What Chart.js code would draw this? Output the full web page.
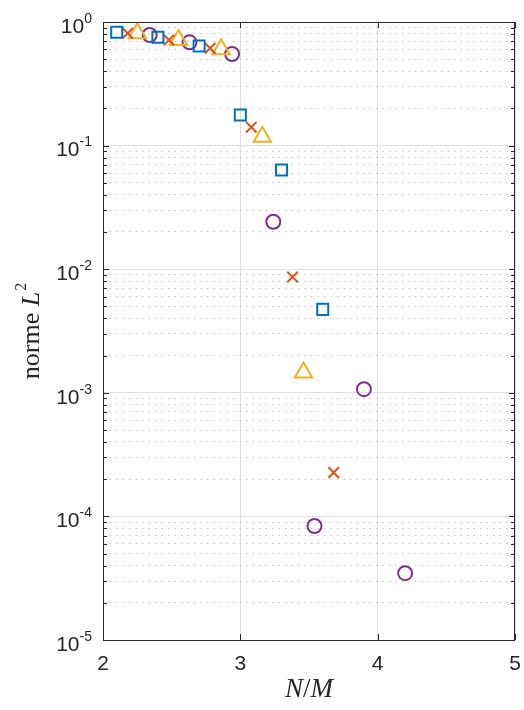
<!DOCTYPE html>
<html>
<head>
<meta charset="utf-8">
<script src="https://cdn.jsdelivr.net/npm/chart.js@4.4.1/dist/chart.umd.min.js"></script>
<style>
  html, body { margin: 0; padding: 0; background: #fff; }
  #wrap { width: 524px; height: 710px; }
</style>
</head>
<body>
<div id="wrap"><canvas id="chart" width="524" height="710"></canvas></div>
<script>
// values (x = N/M, y = norme L2)
const squaresX   = [2.10, 2.40, 2.70, 3.00, 3.30, 3.60];
const squaresY   = [0.826, 0.752, 0.640, 0.177, 0.0635, 0.00473];
const crossesX   = [2.18, 2.48, 2.78, 3.08, 3.38, 3.68];
const crossesY   = [0.810, 0.715, 0.613, 0.141, 0.00865, 0.000226];
const trianglesX = [2.25, 2.55, 2.86, 3.16, 3.46];
const trianglesY = [0.810, 0.715, 0.601, 0.118, 0.00146];
const circlesX   = [2.34, 2.63, 2.94, 3.24, 3.54, 3.90, 4.20];
const circlesY   = [0.785, 0.685, 0.551, 0.0242, 0.0000836, 0.00107, 0.0000347];

const xTicks = [2, 3, 4, 5];
const yDecades = [-5, -4, -3, -2, -1, 0];
const yMantissas = [1, 2, 3, 4, 5, 6, 7, 8, 9];

const AXIS = '#262626';
const MAJOR_GRID = '#e0e0e0';
const MINOR_GRID = '#c4c4c4';

function pts(xs, ys) {
    return xs.map((x, i) => ({ x: x, y: ys[i] }));
}

// all y ticks: 1..9 x 10^e, plus the top 10^0
const yTickValues = [];
yDecades.forEach(e => {
    if (e === 0) { yTickValues.push(1); return; }
    yMantissas.forEach(m => yTickValues.push(Number((m * Math.pow(10, e)).toPrecision(3))));
});

function isDecade(v) {
    const l = Math.log10(v);
    return Math.abs(l - Math.round(l)) < 1e-9;
}

const sansFont = '"Liberation Sans", Arial, sans-serif';
const serifFont = '"Liberation Serif", "Times New Roman", serif';

// text, box and inward ticks drawn on top of the chart
const decorations = {
    id: 'decorations',
    afterDraw(chart) {
        const ctx = chart.ctx;
        const area = chart.chartArea;
        const xs = chart.scales.x;
        const ys = chart.scales.y;
        ctx.save();

        // box
        ctx.strokeStyle = AXIS;
        ctx.lineWidth = 1;
        ctx.strokeRect(area.left + 0.5, area.top + 0.5, area.right - area.left - 1, area.bottom - area.top);

        // ticks inside the box
        ctx.beginPath();
        yTickValues.forEach(v => {
            const py = Math.round(ys.getPixelForValue(v)) + 0.5;
            const len = isDecade(v) ? 6 : 4;
            ctx.moveTo(area.left, py); ctx.lineTo(area.left + len, py);
            ctx.moveTo(area.right, py); ctx.lineTo(area.right - len, py);
        });
        xTicks.forEach(v => {
            const px = Math.round(xs.getPixelForValue(v)) + 0.5;
            ctx.moveTo(px, area.bottom); ctx.lineTo(px, area.bottom - 6);
            ctx.moveTo(px, area.top); ctx.lineTo(px, area.top + 6);
        });
        ctx.stroke();

        ctx.fillStyle = AXIS;

        // x tick labels
        ctx.textBaseline = 'middle';
        ctx.textAlign = 'center';
        ctx.font = '21px ' + sansFont;
        xTicks.forEach(v => {
            ctx.fillText(String(v), xs.getPixelForValue(v), area.bottom + 24);
        });

        // y tick labels 10^e
        ctx.textAlign = 'left';
        yDecades.forEach(e => {
            const py = ys.getPixelForValue(Math.pow(10, e));
            ctx.font = '21px ' + sansFont;
            const wBase = ctx.measureText('10').width;
            ctx.font = '14px ' + sansFont;
            const expText = String(e);
            const wExp = ctx.measureText(expText).width;
            const x0 = 92 - wBase - wExp;
            ctx.font = '21px ' + sansFont;
            ctx.fillText('10', x0, py + 5);
            ctx.font = '14px ' + sansFont;
            ctx.fillText(expText, x0 + wBase, py - 3);
        });

        // y title: norme L^2
        ctx.save();
        ctx.translate(32, 331);
        ctx.rotate(-Math.PI / 2);
        ctx.font = '26px ' + serifFont;
        const wN = ctx.measureText('norme ').width;
        ctx.font = 'italic 26px ' + serifFont;
        const wL = ctx.measureText('L').width;
        ctx.font = '16px ' + serifFont;
        const w2 = ctx.measureText('2').width;
        let tx = -(wN + wL + w2 + 1) / 2;
        ctx.font = '26px ' + serifFont;
        ctx.fillText('norme ', tx, 0);
        tx += wN;
        ctx.font = 'italic 26px ' + serifFont;
        ctx.fillText('L', tx, 0);
        tx += wL + 1;
        ctx.font = '16px ' + serifFont;
        ctx.fillText('2', tx, -10);
        ctx.restore();

        // x title: N/M
        ctx.font = 'italic 27px ' + serifFont;
        const wNn = ctx.measureText('N').width;
        const wM = ctx.measureText('M').width;
        ctx.font = '27px ' + serifFont;
        const wS = ctx.measureText('/').width;
        let cx = (area.left + area.right) / 2 - (wNn + wS + wM) / 2;
        const cy = 690;
        ctx.font = 'italic 27px ' + serifFont;
        ctx.fillText('N', cx, cy);
        cx += wNn;
        ctx.font = '27px ' + serifFont;
        ctx.fillText('/', cx, cy);
        cx += wS;
        ctx.font = 'italic 27px ' + serifFont;
        ctx.fillText('M', cx, cy);

        ctx.restore();
    }
};

const ctx = document.getElementById('chart').getContext('2d');
new Chart(ctx, {
    type: 'scatter',
    data: {
        datasets: [
            {
                label: 'squares',
                data: pts(squaresX, squaresY),
                pointStyle: 'rect',
                pointRadius: 7.8,
                borderColor: '#0072BD',
                backgroundColor: 'rgba(0,0,0,0)',
                borderWidth: 2
            },
            {
                label: 'crosses',
                data: pts(crossesX, crossesY),
                pointStyle: 'crossRot',
                pointRadius: 7.5,
                borderColor: '#D95319',
                backgroundColor: 'rgba(0,0,0,0)',
                borderWidth: 2
            },
            {
                label: 'triangles',
                data: pts(trianglesX, trianglesY),
                pointStyle: 'triangle',
                pointRadius: 10,
                borderColor: '#EDB120',
                backgroundColor: 'rgba(0,0,0,0)',
                borderWidth: 2
            },
            {
                label: 'circles',
                data: pts(circlesX, circlesY),
                pointStyle: 'circle',
                pointRadius: 7,
                borderColor: '#7E2F8E',
                backgroundColor: 'rgba(0,0,0,0)',
                borderWidth: 2
            }
        ]
    },
    options: {
        responsive: false,
        animation: false,
        devicePixelRatio: 1,
        layout: {
            autoPadding: false,
            padding: { top: 22, right: 9, left: 0, bottom: 0 }
        },
        plugins: {
            legend: { display: false },
            tooltip: { enabled: false }
        },
        elements: { point: { hoverRadius: 7 } },
        scales: {
            x: {
                type: 'linear',
                min: 2,
                max: 5,
                afterBuildTicks: axis => { axis.ticks = xTicks.map(v => ({ value: v })); },
                afterFit: axis => { axis.height = 70; },
                ticks: { display: false },
                grid: {
                    color: MAJOR_GRID,
                    lineWidth: 1,
                    drawTicks: false
                },
                border: { display: false }
            },
            y: {
                type: 'logarithmic',
                min: 1e-5,
                max: 1,
                afterBuildTicks: axis => {
                    axis.ticks = yTickValues.map(v => ({ value: v, major: isDecade(v) }));
                },
                afterFit: axis => { axis.width = 103; },
                ticks: { display: false },
                grid: {
                    drawTicks: false,
                    lineWidth: 1,
                    color: c => (c.tick && !isDecade(c.tick.value)) ? MINOR_GRID : MAJOR_GRID
                },
                border: {
                    display: false,
                    dash: c => (c.tick && !isDecade(c.tick.value)) ? [1.5, 5] : []
                }
            }
        }
    },
    plugins: [decorations]
});
</script>
</body>
</html>
